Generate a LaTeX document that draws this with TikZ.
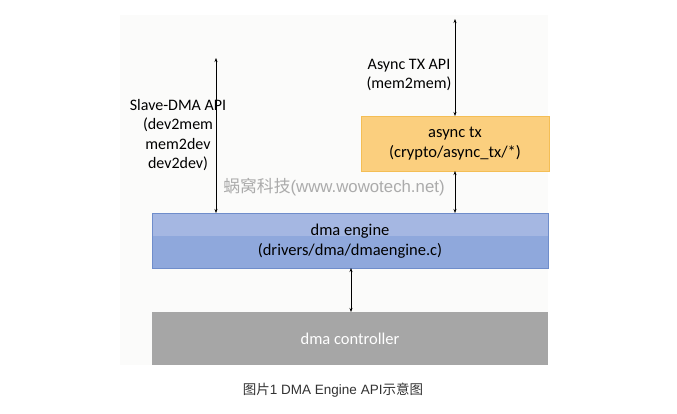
\documentclass[tikz,border=0pt]{standalone}
\usepackage{fontspec}
\setmainfont{Carlito}
\newfontfamily\capfont{Noto Sans CJK SC}
\newfontfamily\wmfont{Liberation Sans}
\newfontfamily\wmcjk{Noto Sans CJK SC}
\usetikzlibrary{arrows.meta}
\definecolor{bgpanel}{HTML}{FBFBFA}
\definecolor{asyncfill}{HTML}{FBCF7E}
\definecolor{asyncdraw}{HTML}{F4BE55}
\definecolor{engtop}{HTML}{A5B7E2}
\definecolor{engbot}{HTML}{8FA8DC}
\definecolor{engdraw}{HTML}{6F8DCB}
\definecolor{ctrlfill}{HTML}{A6A6A6}
\definecolor{wmgray}{HTML}{ABABAB}
\definecolor{capgray}{HTML}{333333}
\tikzset{
  biarrow/.style={{Stealth[length=4pt,width=3pt]}-{Stealth[length=4pt,width=3pt]}, line width=0.5pt, black},
  boxtext/.style={font=\fontsize{16.5}{20.5}\selectfont, align=center, text=black},
  lbltext/.style={font=\fontsize{16}{19.5}\selectfont, align=center, text=black},
}
\begin{document}
\begin{tikzpicture}[x=1pt,y=-1pt]
\useasboundingbox[fill=white] (0,0) rectangle (677,414);
\fill[bgpanel] (120,15) rectangle (548,365);
% async tx box
\fill[asyncfill] (361,116) rectangle (549,171);
\draw[asyncdraw, line width=0.6pt] (361,116) rectangle (549,171);
\node[boxtext] (async) at (455,143.5) {async tx\\(crypto/async\_tx/*)};
\coordinate (asynctop) at (455,116);
\coordinate (asyncbot) at (455,171);
% dma engine box
\fill[engbot] (152,213) rectangle (548,268);
\fill[engtop] (152,213) rectangle (548,236);
\draw[engdraw, line width=0.6pt] (152,213) rectangle (548,268);
\node[boxtext] (engine) at (350,241) {dma engine\\(drivers/dma/dmaengine.c)};
\coordinate (engslave) at (216,213);
\coordinate (engasync) at (455,213);
\coordinate (engbot) at (351,268);
% dma controller
\fill[ctrlfill] (152,312) rectangle (548,365);
\node[font=\fontsize{16.5}{20}\selectfont, text=white] (ctrl) at (350,338.5) {dma controller};
\coordinate (ctrltop) at (351,312);
% free ends
\coordinate (slavetop) at (216,58);
\coordinate (asyncapi) at (455,19);
% arrows
\draw[biarrow] (slavetop) -- (engslave);
\draw[biarrow] (asyncapi) -- (asynctop);
\draw[biarrow] (asyncbot) -- (engasync);
\draw[biarrow] (engbot) -- (ctrltop);
% labels
\node[lbltext] (slavelbl) at (178,135) {Slave-DMA API\\(dev2mem\\mem2dev\\dev2dev)};
\node[lbltext] (asynclbl) at (409,75) {Async TX API\\(mem2mem)};
% watermark
\node[text=wmgray, font=\fontsize{16.8}{19}\selectfont] (wm) at (334,187) {\wmcjk 蜗窝科技\wmfont(www.wowotech.net)};
% caption
\node[text=capgray, font=\fontsize{13.5}{16}\selectfont] (cap) at (333,390) {\capfont 图片\wmfont 1 DMA Engine API\capfont 示意图};
\end{tikzpicture}
\end{document}
